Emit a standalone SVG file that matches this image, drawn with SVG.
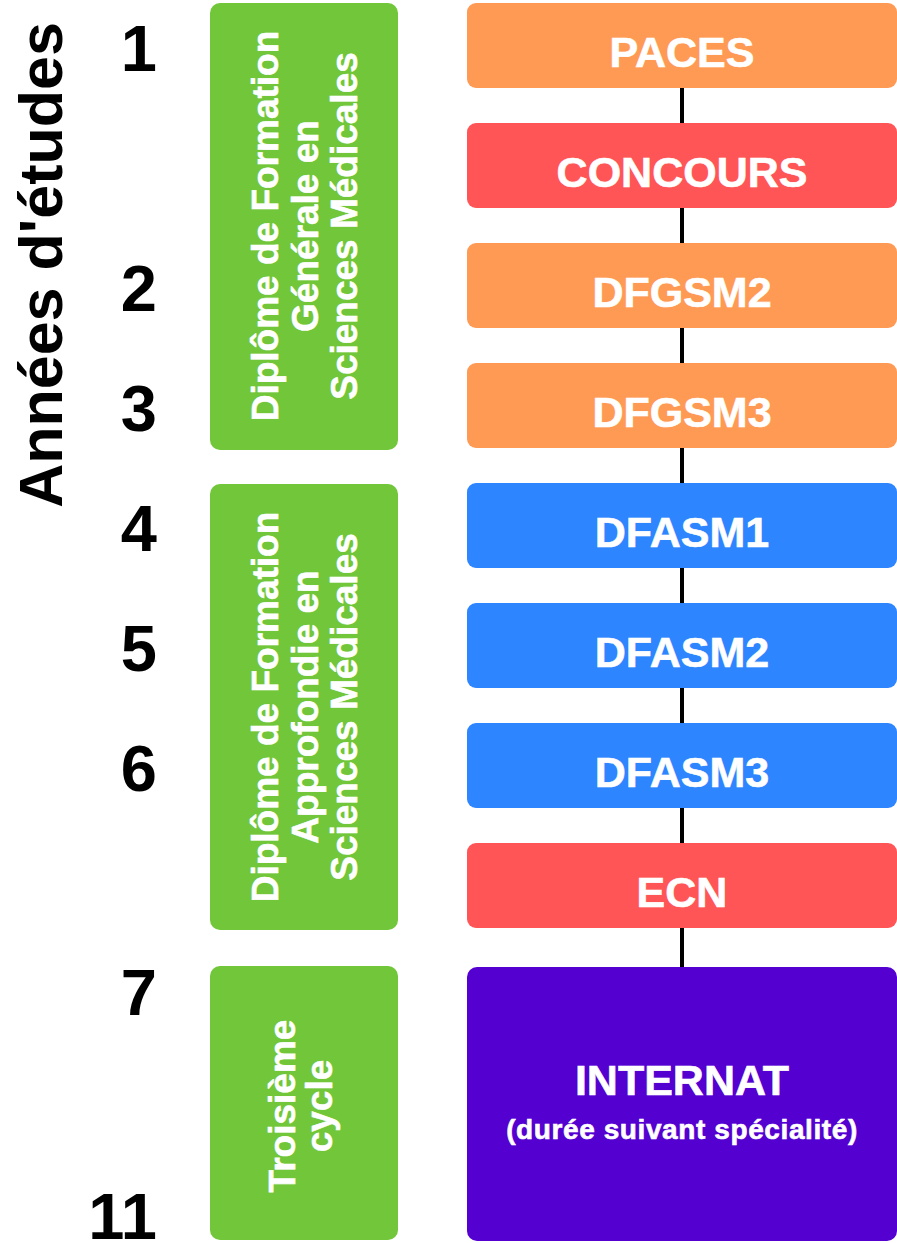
<svg xmlns="http://www.w3.org/2000/svg" width="897" height="1243" viewBox="0 0 897 1243">
<style>
.bg{fill:#ffffff}
.cyc{fill:#71C739}
.org{fill:#FF9A55}
.red{fill:#FF5556}
.blu{fill:#2D85FF}
.pur{fill:#5400D1}
.wt{fill:#ffffff;stroke:#ffffff;stroke-width:0.6;font-family:"Liberation Sans",Arial,Helvetica,sans-serif;font-weight:bold;text-anchor:middle}
.step{font-size:43px}
.cyt{font-size:37px}
.num{fill:#000000;font-family:"Liberation Sans",Arial,Helvetica,sans-serif;font-weight:bold;font-size:65px;text-anchor:end}
.title{fill:#000000;font-family:"Liberation Sans",Arial,Helvetica,sans-serif;font-weight:bold;font-size:61px;text-anchor:middle}
.conn{stroke:#000000;stroke-width:4;fill:none}
</style>
<rect class="bg" x="0" y="0" width="897" height="1243"/>
<g id="connectors">
<line class="conn" x1="682" y1="88" x2="682" y2="123"/>
<line class="conn" x1="682" y1="208" x2="682" y2="243"/>
<line class="conn" x1="682" y1="328" x2="682" y2="363"/>
<line class="conn" x1="682" y1="448" x2="682" y2="483"/>
<line class="conn" x1="682" y1="568" x2="682" y2="603"/>
<line class="conn" x1="682" y1="688" x2="682" y2="723"/>
<line class="conn" x1="682" y1="808" x2="682" y2="843"/>
<line class="conn" x1="682" y1="928" x2="682" y2="967"/>
</g>
<g id="title"><text class="title" transform="translate(62,265) rotate(-90)" x="0" y="0">Années d'études</text></g>
<g id="years">
<text class="num" x="157" y="71">1</text>
<text class="num" x="157" y="311">2</text>
<text class="num" x="157" y="431">3</text>
<text class="num" x="157" y="551">4</text>
<text class="num" x="157" y="671">5</text>
<text class="num" x="157" y="791">6</text>
<text class="num" x="157" y="1015">7</text>
<text class="num" x="157" y="1239">11</text>
</g>
<g id="cycle1">
<rect class="cyc" x="210" y="3" width="188" height="447" rx="10"/>
<g transform="translate(304,226) rotate(-90)">
<text class="wt cyt" x="0" y="-26">Diplôme de Formation</text>
<text class="wt cyt" x="0" y="14">Générale en</text>
<text class="wt cyt" x="0" y="53">Sciences Médicales</text>
</g>
</g>
<g id="cycle2">
<rect class="cyc" x="210" y="484" width="188" height="446" rx="10"/>
<g transform="translate(304,707) rotate(-90)">
<text class="wt cyt" x="0" y="-26">Diplôme de Formation</text>
<text class="wt cyt" x="0" y="14">Approfondie en</text>
<text class="wt cyt" x="0" y="53">Sciences Médicales</text>
</g>
</g>
<g id="cycle3">
<rect class="cyc" x="210" y="966" width="188" height="274" rx="10"/>
<g transform="translate(304,1106) rotate(-90)">
<text class="wt cyt" x="0" y="-9">Troisième</text>
<text class="wt cyt" x="0" y="28">cycle</text>
</g>
</g>
<g id="paces"><rect class="org" x="467" y="3" width="430" height="85" rx="9"/><text class="wt step" x="682" y="67">PACES</text></g>
<g id="concours"><rect class="red" x="467" y="123" width="430" height="85" rx="9"/><text class="wt step" x="682" y="187">CONCOURS</text></g>
<g id="dfgsm2"><rect class="org" x="467" y="243" width="430" height="85" rx="9"/><text class="wt step" x="682" y="307">DFGSM2</text></g>
<g id="dfgsm3"><rect class="org" x="467" y="363" width="430" height="85" rx="9"/><text class="wt step" x="682" y="427">DFGSM3</text></g>
<g id="dfasm1"><rect class="blu" x="467" y="483" width="430" height="85" rx="9"/><text class="wt step" x="682" y="547">DFASM1</text></g>
<g id="dfasm2"><rect class="blu" x="467" y="603" width="430" height="85" rx="9"/><text class="wt step" x="682" y="667">DFASM2</text></g>
<g id="dfasm3"><rect class="blu" x="467" y="723" width="430" height="85" rx="9"/><text class="wt step" x="682" y="787">DFASM3</text></g>
<g id="ecn"><rect class="red" x="467" y="843" width="430" height="85" rx="9"/><text class="wt step" x="682" y="907">ECN</text></g>
<g id="internat"><rect class="pur" x="467" y="967" width="430" height="274" rx="10"/>
<text class="wt step" x="682" y="1095">INTERNAT</text>
<text class="wt" x="682" y="1139" font-size="28" letter-spacing="0.6">(durée suivant spécialité)</text>
</g>
</svg>
